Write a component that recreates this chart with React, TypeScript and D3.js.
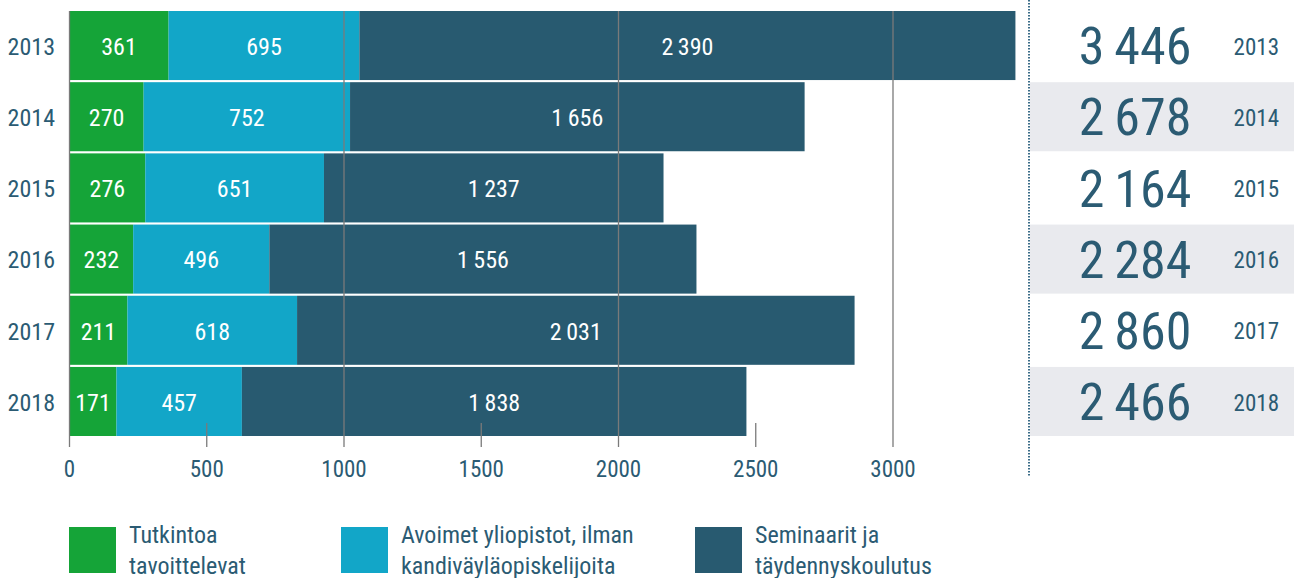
import { useEffect, useRef } from 'react'
import * as d3 from 'd3'

const years = ['2013', '2014', '2015', '2016', '2017', '2018']
const tutkinto = [361, 270, 276, 232, 211, 171]
const avoimet = [695, 752, 651, 496, 618, 457]
const seminaarit = [2390, 1656, 1237, 1556, 2031, 1838]
const ticks = [0, 500, 1000, 1500, 2000, 2500, 3000]
const legendLabels = [
  ['Tutkintoa', 'tavoittelevat'],
  ['Avoimet yliopistot, ilman', 'kandiväyläopiskelijoita'],
  ['Seminaarit ja', 'täydennyskoulutus'],
]

const COLORS = ['#15a438', '#12a6c8', '#285a70']
const TEXT = '#2b5b73'
const FONT = '"Liberation Sans Narrow", "Roboto Condensed", "DejaVu Sans Condensed", sans-serif'

const W = 1294
const H = 578

export default function App() {
  const svgRef = useRef<SVGSVGElement>(null)

  useEffect(() => {
    if (!svgRef.current) return
    const svg = d3.select(svgRef.current)
    svg.selectAll('*').remove()

    const fmt = d3.formatLocale({ decimal: ',', thousands: '\u2009', grouping: [3], currency: ['', '€'] }).format(',d')

    const series = [tutkinto, avoimet, seminaarit]
    const rows = years.map((y, i) => ({ year: y, vals: series.map(s => s[i]) }))

    const x = d3.scaleLinear().domain([0, 3000]).range([69.5, 893])
    const y = d3.scaleBand().domain(years).range([11, 436]).paddingInner(0.03)

    const g = svg.append('g').style('font-family', FONT)

    // right panel bands
    g.selectAll('.band')
      .data(rows.filter((_, i) => i % 2 === 1))
      .enter().append('rect')
      .attr('x', 1030).attr('width', W - 1030)
      .attr('y', d => y(d.year)!).attr('height', y.bandwidth())
      .attr('fill', '#e9eaee')

    // stacked bars
    rows.forEach(r => {
      const cy = y(r.year)! + y.bandwidth() / 2
      let acc = 0
      r.vals.forEach((v, k) => {
        const x0 = x(acc), x1 = x(acc + v)
        acc += v
        g.append('rect')
          .attr('x', x0).attr('y', y(r.year)!)
          .attr('width', x1 - x0).attr('height', y.bandwidth())
          .attr('fill', COLORS[k])
        g.append('text')
          .attr('x', (x0 + x1) / 2).attr('y', cy + 1)
          .attr('dy', '0.35em')
          .attr('text-anchor', 'middle')
          .attr('fill', '#fff')
          .attr('font-size', 24)
          .text(fmt(v))
      })

      // year label left
      g.append('text')
        .attr('x', 55).attr('y', cy + 1)
        .attr('dy', '0.35em').attr('text-anchor', 'end')
        .attr('fill', TEXT).attr('font-size', 24)
        .text(r.year)

      // totals
      g.append('text')
        .attr('x', 1135).attr('y', cy)
        .attr('dy', '0.36em').attr('text-anchor', 'middle')
        .attr('fill', TEXT).attr('font-size', 52)
        .text(fmt(d3.sum(r.vals)))
      g.append('text')
        .attr('x', 1279).attr('y', cy + 1)
        .attr('dy', '0.35em').attr('text-anchor', 'end')
        .attr('fill', TEXT).attr('font-size', 23)
        .text(r.year)
    })

    // grid lines and ticks over bars
    ticks.forEach(t => {
      const major = t % 1000 === 0
      g.append('line')
        .attr('x1', x(t)).attr('x2', x(t))
        .attr('y1', major ? 11 : 423).attr('y2', 447)
        .attr('stroke', '#7a7a7a').attr('stroke-width', 1.3)
      g.append('text')
        .attr('x', x(t)).attr('y', 469)
        .attr('dy', '0.35em').attr('text-anchor', 'middle')
        .attr('fill', TEXT).attr('font-size', 23)
        .text(t)
    })

    // dotted divider
    g.append('line')
      .attr('x1', 1029).attr('x2', 1029)
      .attr('y1', 0).attr('y2', 476)
      .attr('stroke', '#3a6c88').attr('stroke-width', 2)
      .attr('stroke-dasharray', '1.5,1.5')

    // legend
    const legendX = [69, 341, 695]
    legendLabels.forEach((lines, k) => {
      g.append('rect')
        .attr('x', legendX[k]).attr('y', 527)
        .attr('width', 47).attr('height', 46)
        .attr('fill', COLORS[k])
      lines.forEach((ln, j) => {
        g.append('text')
          .attr('x', legendX[k] + 60).attr('y', 543 + j * 31)
          .attr('fill', TEXT).attr('font-size', 24)
          .text(ln)
      })
    })
  }, [])

  return (
    <div style={{ position: 'absolute', left: 0, top: 0 }}>
      <svg ref={svgRef} width={W} height={H} style={{ display: 'block' }} />
    </div>
  )
}
